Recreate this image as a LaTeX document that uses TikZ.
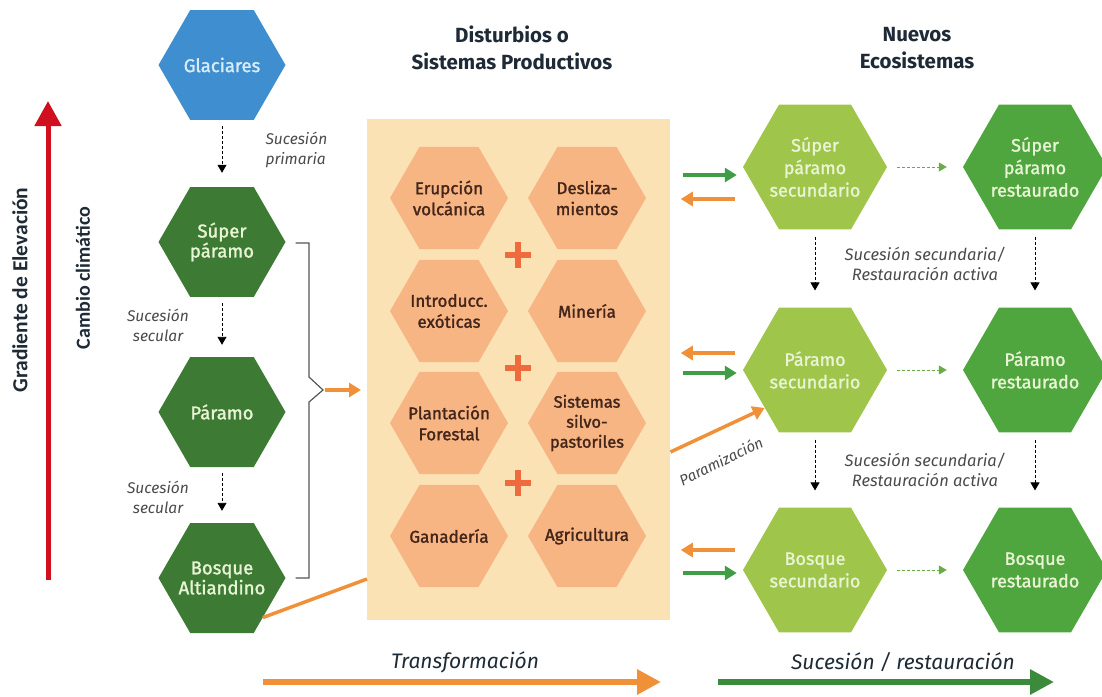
\documentclass[tikz,border=0pt]{standalone}
\usepackage{fontspec}
\setmainfont{Fira Sans}
\newfontfamily\medfont{Fira Sans}[FakeBold=1.5]
\newfontfamily\carl{Carlito}
\usetikzlibrary{shapes.geometric,arrows.meta,calc}
\definecolor{glacier}{HTML}{3F8FD0}
\definecolor{gltext}{HTML}{D9ECF8}
\definecolor{dkgreen}{HTML}{3D7B34}
\definecolor{ltgreen}{HTML}{9FC54A}
\definecolor{mdgreen}{HTML}{4FA53E}
\definecolor{gntext}{HTML}{E8F4D4}
\definecolor{orhex}{HTML}{F6B582}
\definecolor{ortext}{HTML}{43251A}
\definecolor{boxbg}{HTML}{FBE2B5}
\definecolor{plusc}{HTML}{EE6B3D}
\definecolor{orarrow}{HTML}{F0913A}
\definecolor{grarrow}{HTML}{3F9E45}
\definecolor{botgreen}{HTML}{3C8A3C}
\definecolor{dashgreen}{HTML}{6AAB48}
\definecolor{headc}{HTML}{1E2A36}
\definecolor{labc}{HTML}{4A4A4A}
\definecolor{redc}{HTML}{D0101E}
\definecolor{brackc}{HTML}{555555}
\begin{document}
\begin{tikzpicture}[x=1pt,y=-1pt,
  hexbase/.style={regular polygon, regular polygon sides=6, inner sep=0pt, draw=none},
  hexL/.style={hexbase, minimum size=127pt, fill=dkgreen},
  hexO/.style={hexbase, minimum size=118pt, fill=orhex},
  hexS/.style={hexbase, minimum size=144pt, fill=ltgreen},
  hexR/.style={hexbase, minimum size=144pt, fill=mdgreen},
  txtL/.style={align=center, inner sep=0pt, text=gntext, font=\medfont\fontsize{18.5}{20}\selectfont},
  txtO/.style={align=center, inner sep=0pt, text=ortext, font=\medfont\fontsize{17}{21}\selectfont},
  txtR/.style={align=center, inner sep=0pt, text=gntext, font=\medfont\fontsize{18}{22.5}\selectfont},
  blkdash/.style={draw=black, line width=0.9pt, dash pattern=on 3pt off 2pt, -{Triangle[length=8pt,width=9pt]}},
  grdash/.style={draw=dashgreen, line width=0.9pt, dash pattern=on 3pt off 2pt, -{Triangle[length=8pt,width=9pt]}},
  oarrow/.style={draw=orarrow, line width=4pt, -{Triangle[length=12pt,width=14pt]}},
  garrow/.style={draw=grarrow, line width=4pt, -{Triangle[length=12pt,width=14pt]}},
  sidelab/.style={text=labc, font=\fontsize{15.5}{20}\selectfont\itshape, align=center},
  headlab/.style={text=headc, font=\fontsize{20.5}{27}\selectfont\bfseries, align=center},
  vertlab/.style={rotate=90, text=headc, font=\carl\bfseries\fontsize{20}{22}\selectfont},
  plusline/.style={draw=plusc, line width=6pt},
]
\useasboundingbox (0,0) rectangle (1102,696);

% central box
\node[fill=boxbg, minimum width=303pt, minimum height=501pt, inner sep=0pt, anchor=north west] (box) at (367,119) {};

% headers
\node[headlab] (h1) at (512,48) {Disturbios o\\Sistemas Productivos};
\node[headlab] (h2) at (917,48) {Nuevos\\Ecosistemas};

% left column
\node[hexL, fill=glacier] (gla) at (222,65) {};
\node[txtL, text=gltext] (glat) at (gla) {Glaciares};
\node[hexL] (sp) at (222,242) {};
\node[txtL] (spt) at (sp) {Súper\\páramo};
\node[hexL] (pa) at (222,412) {};
\node[txtL] (pat) at (pa) {Páramo};
\node[hexL] (ba) at (222,578) {};
\node[txtL] (bat) at (ba) {Bosque\\Altiandino};

\draw[blkdash, shorten <=6pt, shorten >=14pt] (gla.south) -- (sp.north);
\draw[blkdash, shorten <=6pt, shorten >=12pt] (sp.south) -- (pa.north);
\draw[blkdash, shorten <=6pt, shorten >=12pt] (pa.south) -- (ba.north);

\node[sidelab, align=left, anchor=west] (l1) at (262,150) {Sucesión\\primaria};
\node[sidelab] (l2) at (158,325) {Sucesión\\secular};
\node[sidelab] (l3) at (158,497) {Sucesión\\secular};

% red gradient arrow
\coordinate (rb) at (48,580);
\coordinate (rt) at (48,101);
\draw[redc, line width=5pt, -{Triangle[length=25pt,width=26pt]}] (rb) -- (rt);
\node[vertlab, font=\carl\bfseries\fontsize{21.5}{22}\selectfont] (gr) at (20,290) {Gradiente de Elevación};
\node[vertlab] (cc) at (83,278) {Cambio climático};

% bracket
\coordinate (bk) at (323,390);
\draw[brackc, line width=1.2pt] ($(sp.east)+(10,1)$) -- (309,243) -- (309,377) -- (bk) -- (309,402) -- (309,578) -- ($(ba.east)+(10,0)$);
\draw[oarrow] ($(bk)+(2,0)$) -- ($(box.west |- bk)+(-6,0)$);

% orange line from bosque altiandino
\draw[orarrow, line width=3.5pt] (ba.-44) -- ($(box.north west)+(0,460)$);

% orange hexes
\node[hexO] (o1) at (449,198) {};
\node[txtO] (o1t) at (o1) {Erupción\\volcánica};
\node[hexO] (o2) at (587,198) {};
\node[txtO] (o2t) at (o2) {Desliza-\\mientos};
\node[hexO] (o3) at (449,311) {};
\node[txtO] (o3t) at (o3) {Introducc.\\exóticas};
\node[hexO] (o4) at (587,311) {};
\node[txtO] (o4t) at (o4) {Minería};
\node[hexO] (o5) at (449,423) {};
\node[txtO] (o5t) at (o5) {Plantación\\Forestal};
\node[hexO] (o6) at (587,423) {};
\node[txtO, font=\medfont\fontsize{16.5}{20}\selectfont] (o6t) at (o6) {Sistemas\\silvo-\\pastoriles};
\node[hexO] (o7) at (449,536) {};
\node[txtO] (o7t) at (o7) {Ganadería};
\node[hexO] (o8) at (587,536) {};
\node[txtO] (o8t) at (o8) {Agricultura};

\foreach \py in {255,368,483}{
  \draw[plusline] (505,\py) -- (531,\py);
  \draw[plusline] (518,\py-13) -- (518,\py+13);
}

% right columns
\node[hexS] (s1) at (815,167) {};
\node[txtR] (s1t) at (s1) {Súper\\páramo\\secundario};
\node[hexR] (r1) at (1035,167) {};
\node[txtR] (r1t) at (r1) {Súper\\páramo\\restaurado};
\node[hexS] (s2) at (815,370) {};
\node[txtR] (s2t) at (s2) {Páramo\\secundario};
\node[hexR] (r2) at (1035,370) {};
\node[txtR] (r2t) at (r2) {Páramo\\restaurado};
\node[hexS] (s3) at (815,570) {};
\node[txtR] (s3t) at (s3) {Bosque\\secundario};
\node[hexR] (r3) at (1035,570) {};
\node[txtR] (r3t) at (r3) {Bosque\\restaurado};

\draw[grdash, shorten <=10pt, shorten >=16pt] (s1.east) -- (r1.west);
\draw[grdash, shorten <=10pt, shorten >=16pt] (s2.east) -- (r2.west);
\draw[grdash, shorten <=10pt, shorten >=16pt] (s3.east) -- (r3.west);

\draw[blkdash, shorten <=7pt, shorten >=17pt] (s1.south) -- (s2.north);
\draw[blkdash, shorten <=7pt, shorten >=17pt] (r1.south) -- (r2.north);
\draw[blkdash, shorten <=7pt, shorten >=17pt] (s2.south) -- (s3.north);
\draw[blkdash, shorten <=7pt, shorten >=17pt] (r2.south) -- (r3.north);

\node[sidelab, font=\fontsize{16.5}{20}\selectfont\itshape] (m1) at (925,264) {Sucesión secundaria/\\Restauración activa};
\node[sidelab, font=\fontsize{16.5}{20}\selectfont\itshape] (m2) at (925,470) {Sucesión secundaria/\\Restauración activa};

% arrow pairs
\draw[garrow] ($(s1.west)+(-60,8)$) -- ($(s1.west)+(-6,8)$);
\draw[oarrow] ($(s1.west)+(-8,32)$) -- ($(s1.west)+(-62,32)$);
\draw[oarrow] ($(s2.west)+(-8,-17)$) -- ($(s2.west)+(-62,-17)$);
\draw[garrow] ($(s2.west)+(-60,3)$) -- ($(s2.west)+(-6,3)$);
\draw[oarrow] ($(s3.west)+(-8,-20)$) -- ($(s3.west)+(-62,-20)$);
\draw[garrow] ($(s3.west)+(-60,3)$) -- ($(s3.west)+(-6,3)$);

% paramizacion
\draw[oarrow, line width=3.5pt] ($(box.north east)+(0,333)$) -- (s2.-143);
\node[rotate=26, text=labc, font=\fontsize{15}{16}\selectfont\itshape] (pz) at (721,461) {Paramización};

% bottom arrows
\coordinate (ob1) at (263,682);
\coordinate (ob2) at (661,682);
\draw[orarrow, line width=6pt, -{Triangle[length=24pt,width=24pt]}] (ob1) -- (ob2);
\node[text=headc, font=\fontsize{21}{22}\selectfont\itshape] (tr) at (465,662) {Transformación};
\coordinate (gb1) at (718,682);
\coordinate (gb2) at (1054,682);
\draw[botgreen, line width=6pt, -{Triangle[length=24pt,width=24pt]}] (gb1) -- (gb2);
\node[text=headc, font=\fontsize{21}{22}\selectfont\itshape] (sr) at (903,662) {Sucesión / restauración};
\end{tikzpicture}
\end{document}
